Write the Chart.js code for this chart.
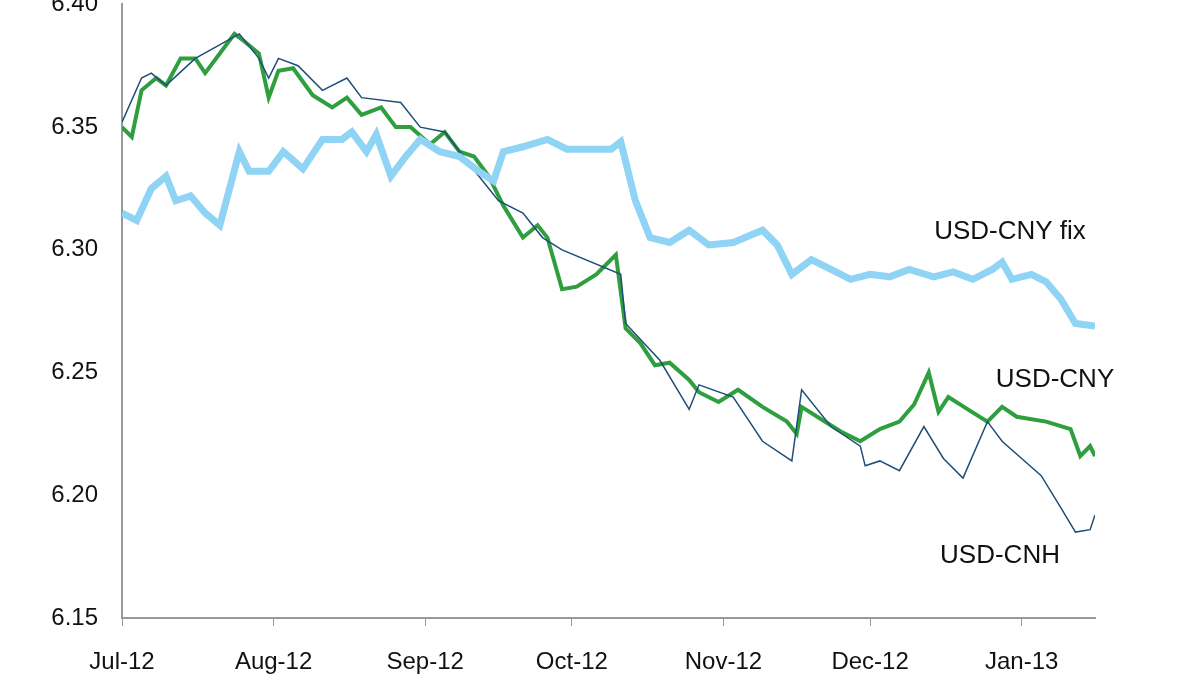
<!DOCTYPE html>
<html><head><meta charset="utf-8">
<script src="https://cdn.jsdelivr.net/npm/chart.js@4"></script>
<style>html,body{margin:0;background:#fff;overflow:hidden}#c{display:block;margin-top:-26px}</style></head>
<body><div style="width:1200px;height:675px;overflow:hidden"><canvas id="c" width="1200" height="701"></canvas></div>
<script>
// Days since 1 Jul 2012
const monthTicks = [0,31,62,92,123,153,184];
const monthLabels = ['Jul-12','Aug-12','Sep-12','Oct-12','Nov-12','Dec-12','Jan-13'];
const fixDays = [0,3,6,9,11,14,17,20,24,26,30,33,37,41,45,47,50,52,55,58,61,65,69,73,76,78,82,87,91,96,100,102,105,108,112,116,120,125,131,134,137,141,145,149,153,157,161,166,170,174,178,180,182,186,189,192,195,199];
const fixVals = [6.315,6.312,6.325,6.330,6.320,6.322,6.315,6.310,6.340,6.332,6.332,6.340,6.333,6.345,6.345,6.348,6.340,6.347,6.330,6.338,6.345,6.340,6.338,6.332,6.328,6.340,6.342,6.345,6.341,6.341,6.341,6.344,6.320,6.305,6.303,6.308,6.302,6.303,6.308,6.302,6.290,6.296,6.292,6.288,6.290,6.289,6.292,6.289,6.291,6.288,6.292,6.295,6.288,6.290,6.287,6.280,6.270,6.269];
const cnyDays = [0,2,4,7,9,12,15,17,20,23,25,28,30,32,35,39,43,46,49,53,56,59,63,66,69,72,75,78,82,85,87,90,93,97,101,103,106,109,112,116,118,122,126,131,136,138,139,143,147,151,155,159,162,165,167,169,173,177,180,183,189,194,196,198,199];
const cnyVals = [6.350,6.346,6.365,6.370,6.367,6.378,6.378,6.372,6.380,6.388,6.385,6.380,6.362,6.373,6.374,6.363,6.358,6.362,6.355,6.358,6.350,6.350,6.343,6.348,6.340,6.338,6.330,6.318,6.305,6.310,6.305,6.284,6.285,6.290,6.298,6.268,6.262,6.253,6.254,6.247,6.242,6.238,6.243,6.236,6.230,6.225,6.236,6.231,6.226,6.222,6.227,6.230,6.237,6.250,6.234,6.240,6.235,6.230,6.236,6.232,6.230,6.227,6.216,6.220,6.216];
const cnhDays = [0,4,6,9,15,24,28,30,32,36,41,46,49,57,61,66,71,77,82,86,90,102,103,110,116,118,125,131,137,139,145,151,152,155,159,164,168,172,177,180,184,188,192,195,198,199];
const cnhVals = [6.352,6.370,6.372,6.367,6.378,6.388,6.378,6.370,6.378,6.375,6.365,6.370,6.362,6.360,6.350,6.348,6.335,6.320,6.315,6.305,6.300,6.290,6.270,6.255,6.235,6.245,6.240,6.222,6.214,6.243,6.228,6.220,6.212,6.214,6.210,6.228,6.215,6.207,6.230,6.222,6.215,6.208,6.195,6.185,6.186,6.192];
const pts=(d,v)=>d.map((x,i)=>({x,y:v[i]}));
const labelPlugin={id:'lbl',afterDatasetsDraw(ch){const c=ch.ctx;c.save();c.font='26px "Liberation Sans Narrow", "Liberation Sans", Arial';c.fillStyle='#111';c.textAlign='center';c.textBaseline='middle';
c.fillText('USD-CNY fix',1010,258);c.fillText('USD-CNY',1055,406);c.fillText('USD-CNH',1000,582);c.restore();}};
const tf={size:24,family:'"Liberation Sans Narrow", "Liberation Sans", Arial'};
new Chart(document.getElementById('c'),{type:'line',
data:{datasets:[
{data:pts(fixDays,fixVals),borderColor:'#8fd3f5',borderWidth:7,pointRadius:0,tension:0},
{data:pts(cnhDays,cnhVals),borderColor:'#1f4e79',borderWidth:1.5,pointRadius:0,tension:0},
{data:pts(cnyDays,cnyVals),borderColor:'#2e9e3e',borderWidth:4,pointRadius:0,tension:0}]},
options:{responsive:false,animation:false,layout:{padding:{top:0,right:105,left:0,bottom:0}},
plugins:{legend:{display:false},tooltip:{enabled:false}},
scales:{x:{type:'linear',min:0,max:199,afterFit(s){s.height=57;},
 afterBuildTicks(s){s.ticks=monthTicks.map(v=>({value:v}));},
 ticks:{autoSkip:false,maxRotation:0,color:'#111',font:tf,padding:22,callback:(v)=>monthLabels[monthTicks.indexOf(v)]},
 grid:{display:true,drawOnChartArea:false,tickLength:8,color:'#999'},border:{color:'#999',width:2}},
y:{min:6.15,max:6.40,afterFit(s){s.width=122;},ticks:{stepSize:0.05,color:'#111',font:tf,padding:16,callback:v=>v.toFixed(2)},
 grid:{display:false},border:{color:'#999',width:2}}}},
plugins:[labelPlugin]});
</script></body></html>
